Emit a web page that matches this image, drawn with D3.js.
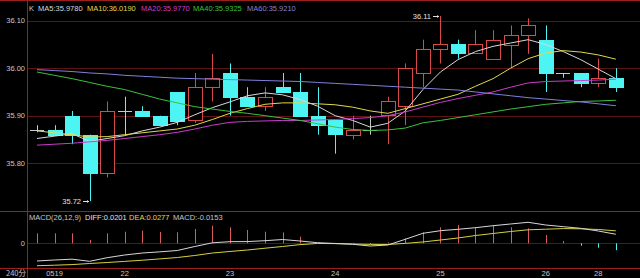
<!DOCTYPE html>
<html>
<head>
<meta charset="utf-8">
<script src="https://cdn.jsdelivr.net/npm/d3@7/dist/d3.min.js"></script>
<style>
body{margin:0;background:#000;}
svg{display:block;font-family:"Liberation Sans",Arial,sans-serif;}
</style>
</head>
<body>
<svg id="chart" width="640" height="278"></svg>
<script>
// 240-minute bars
var opens  = [35.87,35.87,35.90,35.86,35.78,35.91,35.91,35.90,35.95,35.89,35.96,35.99,35.94,35.92,35.96,35.95,35.90,35.89,35.86,35.87,35.90,35.92,35.99,36.04,36.05,36.03,36.02,36.05,36.07,36.06,35.99,35.99,35.97,35.98];
var highs  = [35.88,35.88,35.91,35.86,35.93,35.94,35.92,35.90,35.95,35.99,36.03,36.01,35.96,35.96,35.99,35.99,35.96,35.89,35.90,35.90,35.94,36.01,36.06,36.11,36.06,36.08,36.08,36.09,36.105,36.09,35.99,35.99,36.02,36.00];
var lows   = [35.865,35.86,35.84,35.72,35.77,35.86,35.90,35.88,35.88,35.885,35.93,35.90,35.92,35.91,35.95,35.90,35.86,35.82,35.85,35.86,35.84,35.88,35.96,36.01,36.02,36.03,36.02,36.00,36.03,35.95,35.98,35.96,35.96,35.95];
var closes = [35.87,35.86,35.86,35.78,35.91,35.91,35.90,35.88,35.89,35.96,35.98,35.94,35.92,35.94,35.95,35.90,35.88,35.86,35.87,35.87,35.93,36.00,36.04,36.05,36.03,36.05,36.06,36.07,36.09,35.99,35.99,35.97,35.98,35.96];

var ma5  = [35.852,35.857,35.862,35.846,35.852,35.858,35.868,35.876,35.886,35.902,35.917,35.929,35.942,35.948,35.944,35.934,35.920,35.900,35.890,35.876,35.884,35.910,35.955,35.992,36.018,36.035,36.046,36.053,36.060,36.050,36.035,36.018,35.998,35.978];
var ma10 = [35.868,35.864,35.860,35.855,35.856,35.860,35.864,35.868,35.872,35.880,35.892,35.905,35.915,35.924,35.927,35.927,35.925,35.923,35.918,35.910,35.905,35.915,35.925,35.935,35.945,35.962,35.978,36.000,36.020,36.032,36.037,36.034,36.028,36.019];
var ma20 = [35.838,35.840,35.842,35.845,35.848,35.852,35.856,35.860,35.865,35.872,35.880,35.886,35.888,35.889,35.890,35.890,35.891,35.892,35.894,35.896,35.900,35.908,35.918,35.928,35.936,35.943,35.950,35.960,35.969,35.972,35.973,35.974,35.975,35.977];
var ma40 = [35.992,35.985,35.978,35.970,35.962,35.955,35.945,35.935,35.927,35.919,35.914,35.909,35.905,35.900,35.895,35.890,35.883,35.876,35.871,35.869,35.870,35.874,35.885,35.890,35.896,35.902,35.908,35.914,35.919,35.924,35.927,35.930,35.931,35.9325];
var ma60 = [35.997,35.995,35.993,35.990,35.988,35.985,35.983,35.981,35.979,35.978,35.977,35.976,35.975,35.974,35.973,35.972,35.970,35.968,35.966,35.964,35.962,35.960,35.958,35.956,35.954,35.950,35.946,35.942,35.938,35.935,35.932,35.929,35.925,35.921];

var diff = [-0.0393,-0.0371,-0.0353,-0.040,-0.032,-0.026,-0.0216,-0.019,-0.016,-0.0071,0.0011,0.0036,0.0038,0.0058,0.0084,0.0051,0.0013,-0.0004,-0.0022,-0.006,-0.0038,0.0089,0.0222,0.028,0.0311,0.0347,0.0391,0.0429,0.0467,0.0407,0.0369,0.0333,0.0273,0.0201];
var dea  = [-0.0498,-0.0487,-0.0473,-0.0449,-0.0427,-0.0402,-0.0376,-0.0347,-0.0316,-0.0271,-0.0216,-0.0182,-0.0149,-0.0109,-0.0071,-0.0029,-0.0004,-0.0007,-0.0016,-0.0024,-0.0027,-0.0002,0.003,0.0073,0.0118,0.0173,0.0218,0.0262,0.030,0.0313,0.0327,0.0322,0.0307,0.0277];
var macd = [0.0222,0.0222,0.0222,0.0073,0.0222,0.0258,0.028,0.0251,0.0244,0.0318,0.0391,0.0356,0.0296,0.0258,0.0244,0.0147,0.002,0.001,0.001,-0.002,0.002,0.0111,0.0244,0.0356,0.0407,0.0356,0.0391,0.0356,0.0333,0.0184,0.0051,-0.0053,-0.0098,-0.0153];

var priceTicks = [35.80, 35.90, 36.00, 36.10];
var dateTickIdx  = [1, 5, 11, 17, 23, 29, 32];
var dateTickText = ['0519', '22', '23', '24', '25', '26', '28'];

var upColor = '#d84a4a', downColor = '#4cf4f4', flatColor = '#c8c8c8';
var gridColor = '#5e1414', borderColor = '#9c1e1e', textColor = '#c8c8c8';

var svg = d3.select('#chart'),
    width = +svg.attr('width'),
    height = +svg.attr('height'),
    left = 27.5;

svg.append('rect').attr('width', width).attr('height', height).attr('fill', '#000');

var x = d3.scaleBand()
    .domain(d3.range(opens.length))
    .range([28.2, 624.6]);
var cx = function(i) { return x(i) + x.bandwidth() / 2; };
var bodyW = Math.round(x.bandwidth() * 0.84);

var y = d3.scaleLinear().domain([35.80, 36.10]).range([163.2, 20.7]);
var ym = d3.scaleLinear().domain([0, 0.04]).range([243.3, 225.3]);

// grid
svg.append('g').selectAll('line')
    .data(priceTicks)
    .enter().append('line')
    .attr('x1', left).attr('x2', width)
    .attr('y1', function(d) { return Math.round(y(d)) + 0.5; })
    .attr('y2', function(d) { return Math.round(y(d)) + 0.5; })
    .attr('stroke', gridColor);

svg.append('line')
    .attr('x1', left).attr('x2', width)
    .attr('y1', Math.round(ym(0)) + 0.5).attr('y2', Math.round(ym(0)) + 0.5)
    .attr('stroke', gridColor);

// panel borders
[0.5, 211.5, 268.5].forEach(function(yy) {
    svg.append('line').attr('x1', 0).attr('x2', width).attr('y1', yy).attr('y2', yy)
        .attr('stroke', borderColor);
});
svg.append('line').attr('x1', left).attr('x2', left).attr('y1', 0).attr('y2', height)
    .attr('stroke', borderColor);

// price labels
svg.append('g').selectAll('text')
    .data(priceTicks)
    .enter().append('text')
    .attr('x', 25).attr('y', function(d) { return y(d) + 2.7; })
    .attr('text-anchor', 'end')
    .attr('fill', textColor)
    .style('font-size', '7.5px')
    .text(function(d) { return d.toFixed(2); });

// candles
var candles = d3.range(opens.length).map(function(i) {
    return {i: i, o: opens[i], h: highs[i], l: lows[i], c: closes[i]};
});
function candleColor(d) { return d.c > d.o ? upColor : (d.c < d.o ? downColor : flatColor); }

var cg = svg.append('g').selectAll('g')
    .data(candles)
    .enter().append('g');

cg.append('line')
    .attr('x1', function(d) { return Math.round(cx(d.i)) + 0.5; })
    .attr('x2', function(d) { return Math.round(cx(d.i)) + 0.5; })
    .attr('y1', function(d) { return y(d.h); })
    .attr('y2', function(d) { return y(d.l); })
    .attr('stroke', candleColor);

cg.filter(function(d) { return d.c !== d.o; })
    .append('rect')
    .attr('x', function(d) { return Math.round(cx(d.i)) - Math.floor(bodyW / 2) + 0.5; })
    .attr('y', function(d) { return Math.round(y(Math.max(d.o, d.c))) + 0.5; })
    .attr('width', bodyW - 1)
    .attr('height', function(d) { return Math.max(1, Math.round(Math.abs(y(d.o) - y(d.c)))); })
    .attr('fill', function(d) { return d.c > d.o ? '#000' : downColor; })
    .attr('stroke', candleColor);

cg.filter(function(d) { return d.c === d.o; })
    .append('line')
    .attr('x1', function(d) { return Math.round(cx(d.i)) - Math.floor(bodyW / 2); })
    .attr('x2', function(d) { return Math.round(cx(d.i)) + Math.floor(bodyW / 2); })
    .attr('y1', function(d) { return Math.round(y(d.c)) + 0.5; })
    .attr('y2', function(d) { return Math.round(y(d.c)) + 0.5; })
    .attr('stroke', flatColor);

// moving averages
var maSeries = [
    {name: 'MA5', values: ma5, color: '#d8d8d8', lx: 38},
    {name: 'MA10', values: ma10, color: '#e0d84c', lx: 87},
    {name: 'MA20', values: ma20, color: '#cc3ccc', lx: 141},
    {name: 'MA40', values: ma40, color: '#3cc23c', lx: 193},
    {name: 'MA60', values: ma60, color: '#8080dc', lx: 247}
];
var line = d3.line()
    .x(function(d, i) { return cx(i); })
    .y(function(d) { return y(d); });

svg.append('g').selectAll('path')
    .data(maSeries)
    .enter().append('path')
    .attr('d', function(d) { return line(d.values); })
    .attr('fill', 'none')
    .attr('stroke', function(d) { return d.color; })
    .attr('stroke-width', 1);

// legend
svg.append('text').attr('x', 29).attr('y', 10.7).attr('fill', textColor)
    .style('font-size', '7.5px').text('K');
svg.append('g').selectAll('text')
    .data(maSeries)
    .enter().append('text')
    .attr('x', function(d) { return d.lx; })
    .attr('y', 10.7)
    .attr('fill', function(d) { return d.color; })
    .style('font-size', '7.5px')
    .text(function(d) { return d.name + ':' + d.values[d.values.length - 1].toFixed(4); });

// high / low markers
var hiIdx = d3.maxIndex(highs), loIdx = d3.minIndex(lows);
[{i: hiIdx, v: highs[hiIdx]}, {i: loIdx, v: lows[loIdx]}].forEach(function(m) {
    var px = Math.round(cx(m.i)), py = Math.round(y(m.v)) + 0.5;
    svg.append('text').attr('x', px - 9).attr('y', py + 2.7)
        .attr('text-anchor', 'end').attr('fill', '#e0e0e0')
        .style('font-size', '7.5px').text(m.v.toFixed(2));
    svg.append('line').attr('x1', px - 7).attr('x2', px - 1).attr('y1', py).attr('y2', py)
        .attr('stroke', '#e0e0e0');
    svg.append('path').attr('d', 'M' + (px - 1) + ',' + py + 'l-2,-1.5v3z').attr('fill', '#e0e0e0');
});

// MACD
svg.append('g').selectAll('line')
    .data(macd)
    .enter().append('line')
    .attr('x1', function(d, i) { return Math.round(cx(i)) + 0.5; })
    .attr('x2', function(d, i) { return Math.round(cx(i)) + 0.5; })
    .attr('y1', ym(0))
    .attr('y2', function(d) { return ym(d); })
    .attr('stroke', function(d) { return d >= 0 ? '#d85c5c' : downColor; });

var mline = d3.line()
    .x(function(d, i) { return cx(i); })
    .y(function(d) { return ym(d); });
svg.append('path').attr('d', mline(dea)).attr('fill', 'none').attr('stroke', '#d8d040');
svg.append('path').attr('d', mline(diff)).attr('fill', 'none').attr('stroke', '#d8d8d8');

var macdLabel = [
    {t: 'MACD(26,12,9)', x: 29, c: textColor},
    {t: 'DIFF:' + diff[diff.length - 1].toFixed(4), x: 85, c: '#e0e0e0'},
    {t: 'DEA:' + dea[dea.length - 1].toFixed(4), x: 129, c: '#e0d84c'},
    {t: 'MACD:' + macd[macd.length - 1].toFixed(4), x: 173, c: textColor}
];
svg.append('g').selectAll('text')
    .data(macdLabel)
    .enter().append('text')
    .attr('x', function(d) { return d.x; })
    .attr('y', 220)
    .attr('fill', function(d) { return d.c; })
    .style('font-size', '7.5px')
    .text(function(d) { return d.t; });

svg.append('text').attr('x', 25).attr('y', ym(0) + 2.7).attr('text-anchor', 'end')
    .attr('fill', textColor).style('font-size', '7.5px').text('0');

// date axis
svg.append('g').selectAll('text')
    .data(dateTickIdx)
    .enter().append('text')
    .attr('x', function(d) { return cx(d); })
    .attr('y', 275.5)
    .attr('text-anchor', 'middle')
    .attr('fill', textColor)
    .style('font-size', '7.5px')
    .text(function(d, i) { return dateTickText[i]; });

svg.append('text').attr('x', 6).attr('y', 275.5).attr('fill', textColor)
    .style('font-size', '7.5px').style('font-family', '"Noto Sans CJK SC", sans-serif')
    .text('240分');
</script>
</body>
</html>
